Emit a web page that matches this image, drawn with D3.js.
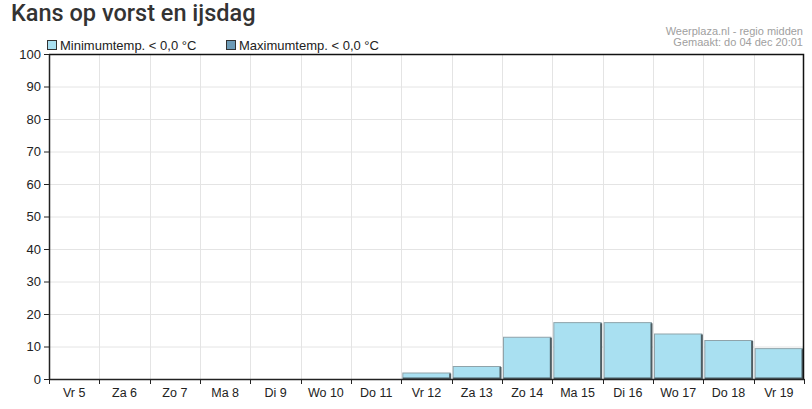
<!DOCTYPE html>
<html>
<head>
<meta charset="utf-8">
<script src="https://cdn.jsdelivr.net/npm/d3@7"></script>
<style>
  body { margin: 0; background: #fff; }
  svg { display: block; }
</style>
</head>
<body>
<svg id="chart" width="812" height="409"></svg>
<script>
const days = ["Vr 5", "Za 6", "Zo 7", "Ma 8", "Di 9", "Wo 10", "Do 11", "Vr 12", "Za 13", "Zo 14", "Ma 15", "Di 16", "Wo 17", "Do 18", "Vr 19"];
const minTemp = [0, 0, 0, 0, 0, 0, 0, 2, 4, 13, 17.5, 17.5, 14, 12, 9.5];
const maxTemp = [0, 0, 0, 0, 0, 0, 0, 0, 0, 0, 0, 0, 0, 0, 0];
const yTicks = [0, 10, 20, 30, 40, 50, 60, 70, 80, 90, 100];
const seriesNames = ["Minimumtemp. < 0,0 °C", "Maximumtemp. < 0,0 °C"];
const seriesColors = ["#a9e0f1", "#6d9bb6"];

const svg = d3.select("#chart");
const margin = {top: 54, right: 8, bottom: 30, left: 49};
const width = 812, height = 409;

const x = d3.scaleBand().domain(days).range([margin.left, width - margin.right]);
const y = d3.scaleLinear().domain([0, 100]).range([height - margin.bottom, margin.top]);

// title
svg.append("text")
    .attr("x", 11).attr("y", 21)
    .attr("font-family", "Roboto, sans-serif")
    .attr("font-size", "23.5px")
    .attr("font-weight", 500)
    .attr("fill", "#333")
    .text("Kans op vorst en ijsdag");

// credits
svg.append("text")
    .attr("x", 803).attr("y", 35)
    .attr("text-anchor", "end")
    .attr("font-family", "Arial, 'Liberation Sans', sans-serif")
    .attr("font-size", "11px")
    .attr("fill", "#a0a0a0")
    .text("Weerplaza.nl - regio midden");
svg.append("text")
    .attr("x", 803).attr("y", 46)
    .attr("text-anchor", "end")
    .attr("font-family", "Arial, 'Liberation Sans', sans-serif")
    .attr("font-size", "11px")
    .attr("fill", "#a0a0a0")
    .text("Gemaakt: do 04 dec 20:01");

// grid
svg.append("g")
    .selectAll("line")
    .data(yTicks.slice(1, -1))
    .join("line")
    .attr("x1", margin.left).attr("x2", width - margin.right)
    .attr("y1", d => y(d) + 0.5).attr("y2", d => y(d) + 0.5)
    .attr("stroke", "#e4e4e4");
svg.append("g")
    .selectAll("line")
    .data(days.slice(1))
    .join("line")
    .attr("x1", d => Math.round(x(d)) + 0.5).attr("x2", d => Math.round(x(d)) + 0.5)
    .attr("y1", margin.top).attr("y2", height - margin.bottom)
    .attr("stroke", "#e4e4e4");

// bars
const bars = svg.append("g")
    .selectAll("g")
    .data(days.map((d, i) => ({day: d, v: minTemp[i]})).filter(d => d.v > 0))
    .join("g");
bars.append("rect")
    .attr("x", d => x(d.day) + 1.5)
    .attr("y", d => y(d.v) + 0.5)
    .attr("width", x.bandwidth() - 3)
    .attr("height", d => y(0) - y(d.v) - 1)
    .attr("fill", seriesColors[0])
    .attr("stroke", "#8fa3aa")
    .attr("stroke-width", 1);
// darker right and bottom edges
bars.append("path")
    .attr("d", d => {
        const x1 = x(d.day) + x.bandwidth() - 1.5;
        const x0 = x(d.day) + 1.5;
        return `M${x1},${y(d.v) + 1}V${y(0) - 0.5}H${x0}`;
    })
    .attr("fill", "none")
    .attr("stroke", "#4d5d63")
    .attr("stroke-width", 2);

// frame top and right
svg.append("path")
    .attr("d", `M${margin.left},${margin.top + 0.5}H${width - margin.right - 0.5}V${height - margin.bottom}`)
    .attr("fill", "none")
    .attr("stroke", "#111")
    .attr("stroke-width", 1.5);

// y axis
const yAxis = svg.append("g")
    .attr("transform", `translate(${margin.left},0)`)
    .call(d3.axisLeft(y).tickValues(yTicks).tickSize(5).tickSizeOuter(0));
yAxis.select(".domain").attr("stroke", "#222").attr("stroke-width", 1.5);
yAxis.selectAll(".tick line").attr("stroke", "#222");
yAxis.selectAll("text")
    .attr("font-family", "Arial, 'Liberation Sans', sans-serif")
    .attr("font-size", "13px")
    .attr("fill", "#222")
    .attr("x", -8);

// x axis
const xAxis = svg.append("g")
    .attr("transform", `translate(0,${height - margin.bottom})`)
    .call(d3.axisBottom(x).tickSize(0).tickSizeOuter(0));
xAxis.select(".domain").attr("stroke", "#222").attr("stroke-width", 1.5);
xAxis.selectAll("text")
    .attr("font-family", "Arial, 'Liberation Sans', sans-serif")
    .attr("font-size", "12.5px")
    .attr("fill", "#222")
    .attr("dy", "1.2em");
svg.append("g")
    .selectAll("line")
    .data(days.concat(["end"]))
    .join("line")
    .attr("x1", (d, i) => Math.round(margin.left + i * x.bandwidth()) + 0.5)
    .attr("x2", (d, i) => Math.round(margin.left + i * x.bandwidth()) + 0.5)
    .attr("y1", height - margin.bottom)
    .attr("y2", height - margin.bottom + 5)
    .attr("stroke", "#222");

// legend
const legend = svg.append("g")
    .selectAll("g")
    .data(seriesNames)
    .join("g")
    .attr("transform", (d, i) => `translate(${i === 0 ? 47 : 226},40)`);
legend.append("rect")
    .attr("x", 0.5).attr("y", 0.5)
    .attr("width", 9).attr("height", 9)
    .attr("fill", (d, i) => seriesColors[i])
    .attr("stroke", "#333");
legend.append("text")
    .attr("x", 13).attr("y", 10)
    .attr("font-family", "Arial, 'Liberation Sans', sans-serif")
    .attr("font-size", "13px")
    .attr("fill", "#222")
    .text(d => d);
</script>
</body>
</html>
